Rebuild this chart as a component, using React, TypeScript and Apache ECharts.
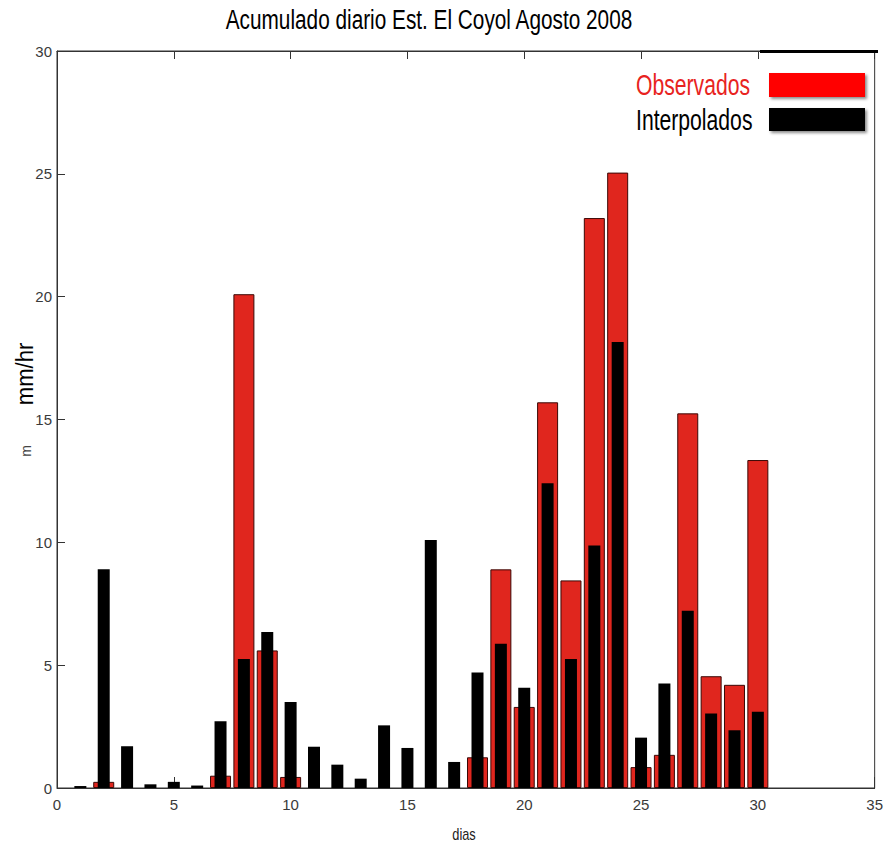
import React, { useEffect, useRef } from "react";
import * as echarts from "echarts";

const titleText = "Acumulado diario Est. El Coyol Agosto 2008";
const xAxisName = "dias";
const yAxisName = "mm/hr";
const seriesNames = ["Observados", "Interpolados"];

const obsDays = [2, 7, 8, 9, 10, 18, 19, 20, 21, 22, 23, 24, 25, 26, 27, 28, 29, 30];
const obsValues = [0.25, 0.5, 20.1, 5.6, 0.45, 1.25, 8.9, 3.3, 15.7, 8.45, 23.2, 25.05, 0.85, 1.35, 15.25, 4.55, 4.2, 13.35];

const interpDays = [1, 2, 3, 4, 5, 6, 7, 8, 9, 10, 11, 12, 13, 14, 15, 16, 17, 18, 19, 20, 21, 22, 23, 24, 25, 26, 27, 28, 29, 30];
const interpValues = [0.08, 8.9, 1.7, 0.15, 0.25, 0.1, 2.72, 5.25, 6.35, 3.5, 1.68, 0.95, 0.38, 2.55, 1.63, 10.1, 1.06, 4.7, 5.87, 4.08, 12.4, 5.25, 9.87, 18.15, 2.05, 4.25, 7.21, 3.03, 2.35, 3.1];

const xMin = 0, xMax = 35, xStep = 5;
const yMin = 0, yMax = 30, yStep = 5;

const SANS = "'Liberation Sans', Arial, Helvetica, sans-serif";
const NARROW = "'Liberation Sans Narrow', 'Liberation Sans', Arial, sans-serif";

export default function App() {
  const ref = useRef<HTMLDivElement>(null);
  useEffect(() => {
    if (!ref.current) return;
    const chart = echarts.init(ref.current, undefined, { renderer: "svg" });
    const axisLabel = { color: "#3a3a3a", fontSize: 15, fontFamily: NARROW };
    chart.setOption({
      animation: false,
      backgroundColor: "#ffffff",
      grid: {
        left: 57, right: 8, top: 51, bottom: 58,
        show: true, borderColor: "#333", borderWidth: 1, backgroundColor: "transparent",
      },
      xAxis: [
        {
          type: "value", min: xMin, max: xMax, interval: xStep, position: "bottom",
          axisLine: { show: true, lineStyle: { color: "#333", width: 1 } },
          axisTick: { show: true, inside: true, length: 11, lineStyle: { color: "#333" } },
          axisLabel: { ...axisLabel, margin: 9 },
          splitLine: { show: false },
        },
        {
          type: "value", min: xMin, max: xMax, interval: xStep, position: "top",
          axisLine: { show: true, lineStyle: { color: "#333", width: 1 } },
          axisTick: { show: true, inside: true, length: 8, lineStyle: { color: "#333" } },
          axisLabel: { show: false },
          splitLine: { show: false },
        },
      ],
      yAxis: {
        type: "value", min: yMin, max: yMax, interval: yStep,
        axisLine: { show: true, lineStyle: { color: "#333", width: 1 } },
        axisTick: { show: true, inside: true, length: 8, lineStyle: { color: "#333" } },
        axisLabel: { ...axisLabel, margin: 5 },
        splitLine: { show: false },
      },
      series: [
        {
          name: seriesNames[0], type: "bar", xAxisIndex: 0, barWidth: 21,
          data: obsDays.map((d, i) => [d, obsValues[i]]),
          itemStyle: { color: "#e0261e", borderColor: "#3a0806", borderWidth: 1 },
        },
        {
          name: seriesNames[1], type: "bar", xAxisIndex: 1, barWidth: 12,
          data: interpDays.map((d, i) => [d, interpValues[i]]),
          itemStyle: { color: "#000000" },
        },
      ],
      graphic: [
        {
          type: "text", x: 429, y: 19, scaleX: 0.77, z: 10,
          style: { text: titleText, fontSize: 27, fontFamily: SANS, fill: "#000", align: "center", verticalAlign: "middle" },
        },
        {
          type: "line", z: 10,
          shape: { x1: 760, y1: 51.5, x2: 878, y2: 51.5 },
          style: { stroke: "#000", lineWidth: 3 },
        },
        {
          type: "text", x: 636, y: 85, scaleX: 0.73, z: 10,
          style: { text: seriesNames[0], fontSize: 29, fontFamily: SANS, fill: "#e8231e", align: "left", verticalAlign: "middle" },
        },
        {
          type: "text", x: 636, y: 120, scaleX: 0.73, z: 10,
          style: { text: seriesNames[1], fontSize: 29, fontFamily: SANS, fill: "#000", align: "left", verticalAlign: "middle" },
        },
        {
          type: "rect", z: 10,
          shape: { x: 769, y: 73, width: 96, height: 24 },
          style: { fill: "#ff0000", shadowBlur: 3, shadowOffsetX: 2, shadowOffsetY: 2, shadowColor: "rgba(0,0,0,0.45)" },
        },
        {
          type: "rect", z: 10,
          shape: { x: 769, y: 108, width: 96, height: 23 },
          style: { fill: "#000000", shadowBlur: 3, shadowOffsetX: 2, shadowOffsetY: 2, shadowColor: "rgba(0,0,0,0.45)" },
        },
        {
          type: "text", x: 25, y: 374, rotation: Math.PI / 2, scaleX: 0.92, z: 10,
          style: { text: yAxisName, fontSize: 24, fontFamily: SANS, fill: "#000", align: "center", verticalAlign: "middle" },
        },
        {
          type: "text", x: 26, y: 451, rotation: Math.PI / 2, z: 10,
          style: { text: "m", fontSize: 14, fontFamily: SANS, fill: "#444", align: "center", verticalAlign: "middle" },
        },
        {
          type: "text", x: 464, y: 834, scaleX: 0.8, z: 10,
          style: { text: xAxisName, fontSize: 16, fontFamily: SANS, fill: "#222", align: "center", verticalAlign: "middle" },
        },
      ],
    });
    return () => chart.dispose();
  }, []);
  return <div ref={ref} style={{ position: "fixed", left: 0, top: 0, width: 886, height: 846 }} />;
}
